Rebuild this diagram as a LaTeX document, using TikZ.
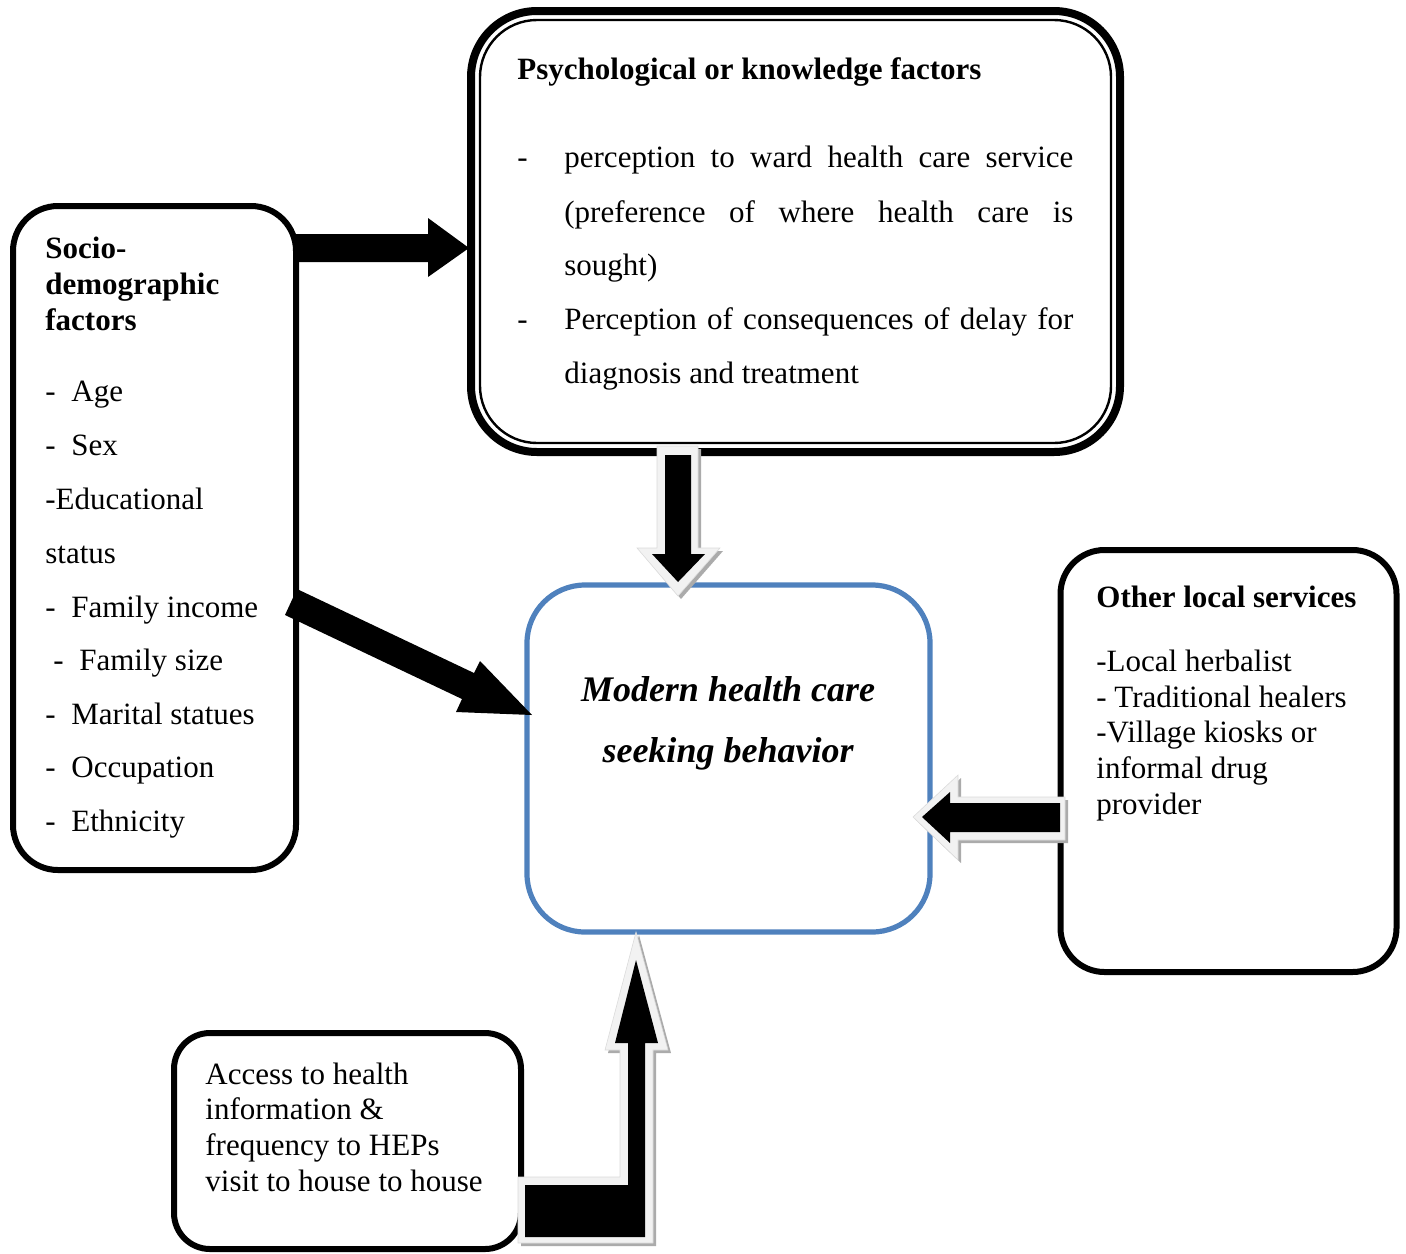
\documentclass[tikz,border=0pt]{standalone}
\usepackage{fontspec}
\setmainfont{Liberation Serif}
\definecolor{modblue}{HTML}{4F81BD}
\definecolor{arrowrim}{HTML}{F2F2F2}
\definecolor{arrowshade}{HTML}{ABABAB}
\tikzset{
  box/.style={draw=black, line width=3pt, rectangle, inner sep=0pt, fill=white},
  txt/.style={anchor=base west, inner sep=0pt, font=\fontsize{15.5pt}{18pt}\selectfont},
  btxt/.style={anchor=base west, inner sep=0pt, font=\fontsize{15.5pt}{18pt}\selectfont\bfseries},
  modtxt/.style={anchor=base, inner sep=0pt, font=\fontsize{18pt}{20pt}\selectfont\bfseries\itshape},
  fatarrow/.style={fill=black, draw=none},
  rim/.style={fill=arrowrim, draw=arrowrim!80!gray, line width=0.3pt},
  shade/.style={fill=arrowshade, draw=none},
}
\newcommand{\itemdash}[1]{\makebox[#1][l]{-}}
\begin{document}
\begin{tikzpicture}[x=0.5pt,y=-0.5pt]
\useasboundingbox (0,0) rectangle (1406,1253);

% ---- boxes ----
\node[box, line width=4pt, rounded corners=33pt, minimum width=324.5pt, minimum height=220.5pt] (psych) at (795.5,231.5) {};
\node[draw, line width=1.2pt, rounded corners=28.5pt, minimum width=315.5pt, minimum height=211.5pt, inner sep=0pt] (psychin) at (psych.center) {};
\node[box, rounded corners=22.5pt, minimum width=141.5pt, minimum height=332pt] (socio) at (154.5,538) {};
\node[box, draw=modblue, line width=2.6pt, rounded corners=29pt, minimum width=201.5pt, minimum height=173.5pt] (modern) at (728.5,758.5) {};
\node[box, rounded corners=22pt, minimum width=168pt, minimum height=211pt] (other) at (1228.5,761) {};
\node[box, rounded corners=18pt, minimum width=173.5pt, minimum height=108pt] (access) at (347.5,1141) {};

% ---- texts: psychological box ----
\node[btxt] (pt) at (517,79) {Psychological or knowledge factors};
\node[txt] (pd1) at (517,167) {-};
\node[txt] (pl1) at (564,167) {\makebox[254.5pt][s]{perception to ward health care service}};
\node[txt] (pl2) at (564,222) {\makebox[254.5pt][s]{(preference of where health care is}};
\node[txt] (pl3) at (564,275) {sought)};
\node[txt] (pd2) at (517,329) {-};
\node[txt] (pl4) at (564,329) {\makebox[254.5pt][s]{Perception of consequences of delay for}};
\node[txt] (pl5) at (564,383) {diagnosis and treatment};

% ---- texts: socio-demographic box ----
\node[btxt] (st1) at (45,258) {Socio-};
\node[btxt] (st2) at (45,294) {demographic};
\node[btxt] (st3) at (45,330) {factors};
\node[txt] (s1) at (45,401) {\itemdash{13pt}Age};
\node[txt] (s2) at (45,455) {\itemdash{13pt}Sex};
\node[txt] (s3) at (45,509) {-Educational};
\node[txt] (s4) at (45,563) {status};
\node[txt] (s5) at (45,617) {\itemdash{13pt}Family income};
\node[txt] (s6) at (53,670) {\itemdash{13pt}Family size};
\node[txt] (s7) at (45,724) {\itemdash{13pt}Marital statues};
\node[txt] (s8) at (45,777) {\itemdash{13pt}Occupation};
\node[txt] (s9) at (45,831) {\itemdash{13pt}Ethnicity};

% ---- texts: modern box ----
\node[modtxt] (m1) at (728,701) {Modern health care};
\node[modtxt] (m2) at (728,762) {seeking behavior};

% ---- texts: other local services ----
\node[btxt] (ot) at (1096,607) {Other local services};
\node[txt] (o1) at (1096,671) {-Local herbalist};
\node[txt] (o2) at (1096,707) {- Traditional healers};
\node[txt] (o3) at (1096,742) {-Village kiosks or};
\node[txt] (o4) at (1096,778) {informal drug};
\node[txt] (o5) at (1096,814) {provider};

% ---- texts: access box ----
\node[txt] (a1) at (205,1084) {Access to health};
\node[txt] (a2) at (205,1119) {information \&};
\node[txt] (a3) at (205,1155) {frequency to HEPs};
\node[txt] (a4) at (205,1191) {visit to house to house};

% ---- arrow: socio -> psych ----
\fill[fatarrow] (293,234) -- (428,234) -- (428,218) -- (469,248) -- (428,277) -- (428,262) -- (293,262) -- cycle;

% ---- arrow: socio -> modern (diagonal) ----
\fill[fatarrow] (297,589) -- (474,673) -- (480,661) -- (532,715) -- (456,712) -- (462,699) -- (285,615) -- cycle;

% ---- arrow: psych -> modern (down, rimmed) ----
\fill[shade] (660,449) -- (701,449) -- (701,551) -- (723,551) -- (681,599) -- (640,551) -- (660,551) -- cycle;
\filldraw[rim] (657,446) -- (698,446) -- (698,548) -- (720,548) -- (678,596) -- (637,548) -- (657,548) -- cycle;
\fill[fatarrow] (665,455) -- (691,455) -- (691,554) -- (705,554) -- (678,582) -- (652,554) -- (665,554) -- cycle;

% ---- arrow: other -> modern (left, rimmed) ----
\fill[shade] (1068,800) -- (961,800) -- (961,778) -- (916,820) -- (961,863) -- (961,843) -- (1068,843) -- cycle;
\filldraw[rim] (1065,797) -- (958,797) -- (958,775) -- (913,817) -- (958,860) -- (958,840) -- (1065,840) -- cycle;
\fill[fatarrow] (1060,803) -- (950,803) -- (950,792) -- (922,817) -- (950,843) -- (950,832) -- (1060,832) -- cycle;

% ---- arrow: access -> modern (L-shaped, rimmed) ----
\fill[shade] (521,1246) -- (656,1246) -- (656,1053) -- (671,1053) -- (639,935) -- (608,1053) -- (623,1053) -- (623,1180) -- (521,1180) -- cycle;
\filldraw[rim] (518,1243) -- (653,1243) -- (653,1050) -- (668,1050) -- (636,932) -- (605,1050) -- (620,1050) -- (620,1177) -- (518,1177) -- cycle;
\fill[fatarrow] (525,1237) -- (645,1237) -- (645,1043) -- (658,1043) -- (636,960) -- (615,1043) -- (628,1043) -- (628,1185) -- (525,1185) -- cycle;
\end{tikzpicture}
\end{document}
